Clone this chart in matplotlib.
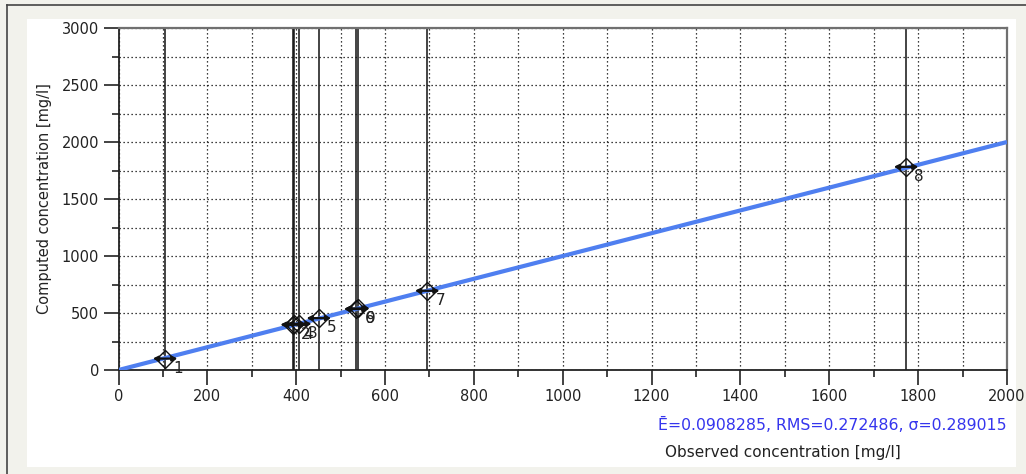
import matplotlib
matplotlib.use("Agg")
import matplotlib.pyplot as plt
from matplotlib.patches import Rectangle
from matplotlib.lines import Line2D
from matplotlib.ticker import MultipleLocator

# Observed vs computed concentrations for the calibration points
point_ids = ["1", "2", "4", "3", "5", "6", "7", "8", "9"]
observed = [105, 392, 396, 407, 451, 535, 695, 1773, 538]
computed = [100, 398, 400, 405, 455, 535, 695, 1782, 540]
obs_error = [28, 28, 28, 28, 28, 28, 28, 28, 28]

# Ideal agreement line
ideal_x = [0, 2000]
ideal_y = [0, 2000]

stats_text = "Ē=0.0908285, RMS=0.272486, σ=0.289015"
x_label = "Observed concentration [mg/l]"
y_label = "Computed concentration [mg/l]"

W, H = 1026, 474
fig = plt.figure(figsize=(W / 100, H / 100), dpi=100)
fig.patch.set_facecolor("#f2f2ec")
plt.rcParams["font.family"] = ["DejaVu Sans"]

# window frame and white panel
fig.add_artist(Line2D([7 / W, 1], [1 - 5 / H, 1 - 5 / H], color="#444444", lw=1.2,
                      transform=fig.transFigure))
fig.add_artist(Line2D([7 / W, 7 / W], [0, 1 - 5 / H], color="#444444", lw=1.2,
                      transform=fig.transFigure))
fig.add_artist(Rectangle((27 / W, 1 - 467 / H), (1016 - 27) / W, (467 - 19) / H,
                         facecolor="white", edgecolor="none", transform=fig.transFigure,
                         zorder=0))

left, right, top, bottom = 118.5, 1007, 28, 370
ax = fig.add_axes([left / W, 1 - bottom / H, (right - left) / W, (bottom - top) / H])
ax.set_facecolor("white")
ax.set_xlim(0, 2000)
ax.set_ylim(0, 3000)

ax.xaxis.set_major_locator(MultipleLocator(200))
ax.xaxis.set_minor_locator(MultipleLocator(100))
ax.yaxis.set_major_locator(MultipleLocator(500))
ax.yaxis.set_minor_locator(MultipleLocator(250))
ax.grid(which="both", color="black", linestyle=(0, (1, 2.2)), linewidth=0.9, zorder=1)
ax.set_axisbelow(True)

ax.tick_params(which="major", length=11, width=1.2, labelsize=10.5, pad=3,
               color="#222222", labelcolor="#222222")
ax.tick_params(which="minor", length=5, width=1.2, color="#222222")
for s in ("left", "bottom"):
    ax.spines[s].set_color("#222222")
    ax.spines[s].set_linewidth(1.3)
for s in ("top", "right"):
    ax.spines[s].set_color("#707070")
    ax.spines[s].set_linewidth(1.6)

# vertical lines at each observation
for x in observed:
    ax.axvline(x, color="#111111", lw=1.1, zorder=2)

ax.plot(ideal_x, ideal_y, color="#4f7ff0", lw=3.0, solid_capstyle="butt", zorder=3)

ax.plot(observed, computed, linestyle="none", marker="D", markersize=9,
        markerfacecolor="none", markeredgecolor="#111111", markeredgewidth=1.0, zorder=4)
for x, y, e in zip(observed, computed, obs_error):
    ax.annotate("", xy=(x - e, y), xytext=(x + e, y),
                arrowprops=dict(arrowstyle="<|-|>", color="#111111", lw=1.6,
                                mutation_scale=7, shrinkA=0, shrinkB=0), zorder=5)

for pid, x, y in zip(point_ids, observed, computed):
    ax.annotate(pid, xy=(x, y), xytext=(6, -7), textcoords="offset points",
                ha="left", va="center", fontsize=11, color="#222222", zorder=6)

fig.text(1007 / W, 1 - 425 / H, stats_text, ha="right", va="center", fontsize=11.3,
         color="#3535ee")
fig.text(783 / W, 1 - 452 / H, x_label, ha="center", va="center", fontsize=11,
         color="#222222")
fig.text(45 / W, 1 - 199 / H, y_label, ha="center", va="center", rotation=90,
         fontsize=10.5, color="#222222")

fig.savefig("out.png", dpi=100, facecolor=fig.get_facecolor())
